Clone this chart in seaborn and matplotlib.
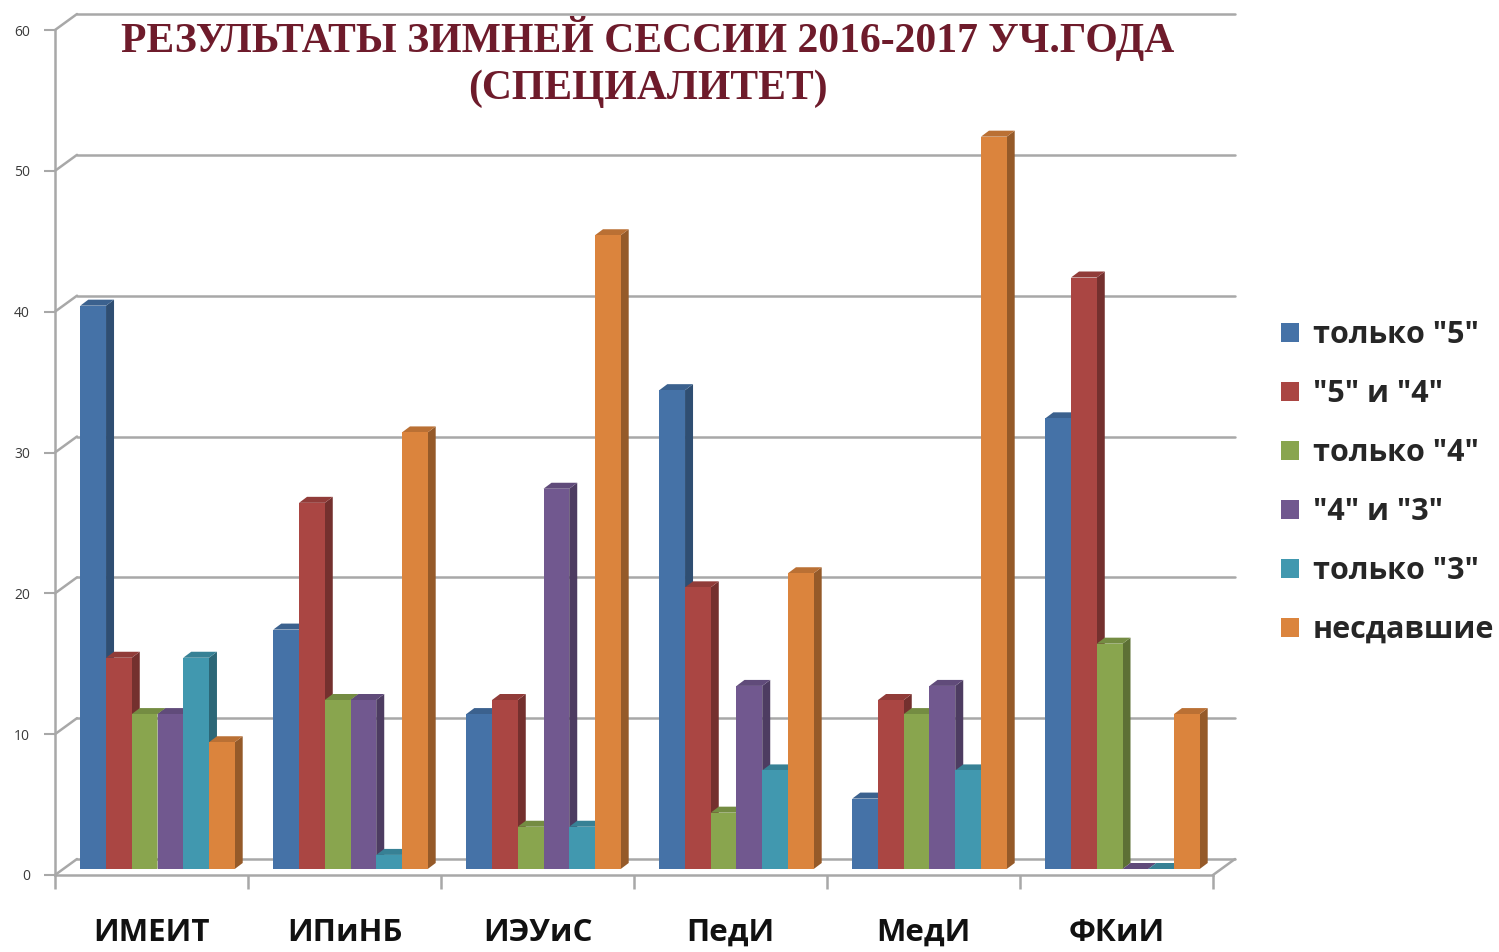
import numpy as np
import pandas as pd
import matplotlib
matplotlib.use("Agg")
import matplotlib.pyplot as plt
import matplotlib.transforms as mtransforms
from matplotlib.patches import Polygon, Patch
import seaborn as sns

# ---------------- data ----------------
categories = ["ИМЕИТ", "ИПиНБ", "ИЭУиС", "ПедИ", "МедИ", "ФКиИ"]
series = ['только "5"', '"5" и "4"', 'только "4"', '"4" и "3"', 'только "3"', 'несдавшие']
only5 = [40, 17, 11, 34, 5, 32]
five_four = [15, 26, 12, 20, 12, 42]
only4 = [11, 12, 3, 4, 11, 16]
four_three = [11, 12, 27, 13, 13, 0]
only3 = [15, 1, 3, 7, 7, 0]
failed = [9, 31, 45, 21, 52, 11]
yticks = [0, 10, 20, 30, 40, 50, 60]
title = "РЕЗУЛЬТАТЫ ЗИМНЕЙ СЕССИИ 2016-2017 УЧ.ГОДА\n(СПЕЦИАЛИТЕТ)"

colors = ["#4572A7", "#AA4643", "#89A54E", "#71588F", "#4198AF", "#DB843D"]

rows = []
for s, vals in zip(series, [only5, five_four, only4, four_three, only3, failed]):
    for c, v in zip(categories, vals):
        rows.append({"cat": c, "series": s, "val": v})
df = pd.DataFrame(rows)

# ---------------- style ----------------
sns.set_theme(style="white")
plt.rcParams["font.family"] = ["Open Sans", "DejaVu Sans"]

DPI = 100
fig = plt.figure(figsize=(14.99, 9.52), dpi=DPI)
W, H = 1499, 952
ax = fig.add_axes([55 / W, 1 - 875 / H, 1158 / W, 845 / H])
ax.patch.set_alpha(0)

sns.barplot(data=df, x="cat", y="val", hue="series", hue_order=series,
            order=categories, palette=colors, width=0.8, saturation=1,
            legend=False, ax=ax, edgecolor="none", linewidth=0, errorbar=None)

ax.set_xlim(-0.5, 5.5)
ax.set_ylim(0, 60)
ax.set_xlabel("")
ax.set_ylabel("")

grid_col = "#A8A8A8"
for sp in ["top", "right"]:
    ax.spines[sp].set_visible(False)
for sp in ["left", "bottom"]:
    ax.spines[sp].set_color(grid_col)
    ax.spines[sp].set_linewidth(1.8)
    ax.spines[sp].set_zorder(0.5)

# back wall gridlines (3D offset)
gdx, gdy = 22, 16
goff = mtransforms.ScaledTranslation(gdx / DPI, gdy / DPI, fig.dpi_scale_trans)
blend = mtransforms.blended_transform_factory(ax.transAxes, ax.transData)
for y in yticks:
    ax.plot([0, 1], [y, y], transform=blend + goff, color=grid_col, lw=1.8,
            clip_on=False, zorder=0.2)

fig.canvas.draw()
ident = mtransforms.IdentityTransform()
for y in yticks:
    p = ax.transData.transform((-0.5, y))
    ax.add_line(plt.Line2D([p[0], p[0] + gdx], [p[1], p[1] + gdy], transform=ident,
                           color=grid_col, lw=1.8, zorder=0.2, clip_on=False))
p = ax.transData.transform((5.5, 0))
ax.add_line(plt.Line2D([p[0], p[0] + gdx], [p[1], p[1] + gdy], transform=ident,
                       color=grid_col, lw=1.8, zorder=0.2, clip_on=False))

# ---------------- 3D bars ----------------
def shade(c, f):
    rgb = np.array(matplotlib.colors.to_rgb(c))
    return tuple(np.clip(rgb * f, 0, 1))

bshift = mtransforms.ScaledTranslation(6 / DPI, 6 / DPI, fig.dpi_scale_trans)
bdx, bdy = 8, 6
bars = sorted([p for p in ax.patches if isinstance(p, matplotlib.patches.Rectangle)
               and p.get_width() > 0 and p.get_width() < 1],
              key=lambda r: r.get_x())
trans = ax.transData + bshift
z = 1.0
for r in bars:
    x0, w, h = r.get_x(), r.get_width(), r.get_height()
    col = r.get_facecolor()
    r.set_transform(trans)
    r.set_clip_on(False)
    (lx, by), (rx, ty) = trans.transform([(x0, 0), (x0 + w, h)])
    side = Polygon([(rx, by), (rx + bdx, by + bdy), (rx + bdx, ty + bdy), (rx, ty)],
                   closed=True, transform=ident, facecolor=shade(col, 0.68),
                   edgecolor="none", zorder=z, clip_on=False)
    top = Polygon([(lx, ty), (rx, ty), (rx + bdx, ty + bdy), (lx + bdx, ty + bdy)],
                  closed=True, transform=ident, facecolor=shade(col, 0.85),
                  edgecolor="none", zorder=z + 0.1, clip_on=False)
    ax.add_patch(side)
    ax.add_patch(top)
    r.set_zorder(z + 0.2)
    z += 0.3

# ---------------- ticks ----------------
ax.set_yticks(yticks)
ax.set_yticklabels([str(t) for t in yticks])
ax.tick_params(axis="y", which="major", left=True, length=8, width=1.5,
               color=grid_col, labelsize=10, labelcolor="#3A3A3A", pad=10)
ax.set_xticks(range(len(categories)))
ax.set_xticklabels(categories, fontsize=22.5, fontweight="bold", color="#111111")
ax.tick_params(axis="x", which="major", length=0, pad=31)
ax.set_xticks(np.arange(-0.5, len(categories), 1.0), minor=True)
ax.tick_params(axis="x", which="minor", bottom=True, length=10, width=1.8,
               color=grid_col)

# ---------------- title ----------------
fig.text(648 / W, 1 - 16 / H, title, ha="center", va="top",
         family=["Liberation Serif", "DejaVu Serif"], fontweight="bold",
         fontsize=30, color="#6E1B2B", linespacing=1.3)

# ---------------- legend ----------------
handles = [Patch(facecolor=c, edgecolor="none") for c in colors]
fig.legend(handles, series, loc="upper left",
           bbox_to_anchor=(1281 / W, 1 - 320 / H), frameon=False,
           prop={"family": ["Open Sans", "DejaVu Sans"], "weight": "bold", "size": 22},
           handlelength=0.6, handleheight=0.6, handletextpad=0.45,
           labelspacing=0.95, borderpad=0, borderaxespad=0)

fig.savefig("out.png", dpi=DPI)
